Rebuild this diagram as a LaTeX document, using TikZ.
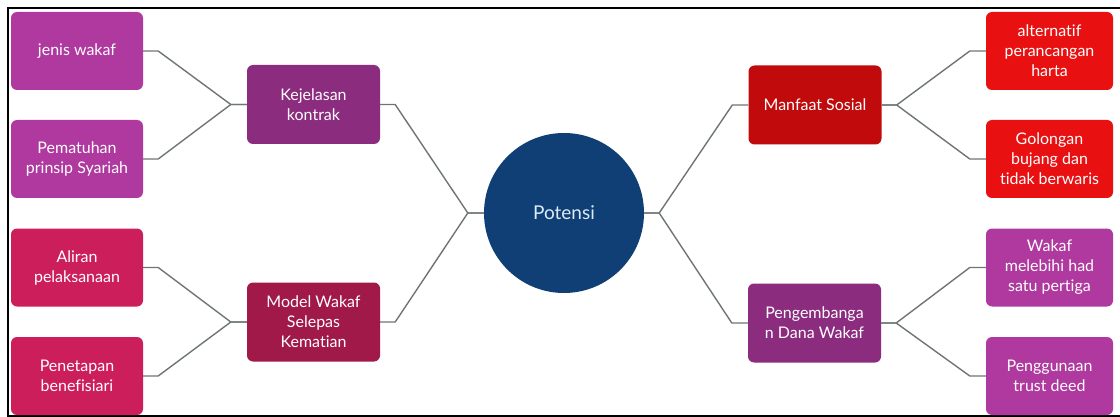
\documentclass[tikz,border=0pt]{standalone}
\usepackage{fontspec}
\setmainfont{Lato}[Ligatures=NoCommon]
\usepackage{xcolor}
\usetikzlibrary{positioning,calc}

\definecolor{leafpurple}{HTML}{AF399E}
\definecolor{midpurple}{HTML}{8B2C7E}
\definecolor{leafcrimson}{HTML}{CC1E5A}
\definecolor{midcrimson}{HTML}{A01948}
\definecolor{midred}{HTML}{C00A0C}
\definecolor{leafred}{HTML}{E81010}
\definecolor{hubblue}{HTML}{0F3F75}
\definecolor{hubtext}{HTML}{DDEBF7}
\definecolor{linkgray}{HTML}{6E7574}

\begin{document}
\begin{tikzpicture}[x=1pt, y=-1pt,
    box/.style={rectangle, rounded corners=6pt, text=white, align=center,
        font=\fontsize{16}{20}\selectfont, inner sep=0pt},
    leaf/.style={box, minimum width=132pt, minimum height=78pt},
    leafr/.style={box, minimum width=127pt, minimum height=78pt},
    mid/.style={box, minimum width=133pt, minimum height=79pt},
    link/.style={draw=linkgray, line width=1.4pt}]
    \useasboundingbox (0,0) rectangle (1120,417);
    \draw[line width=2pt] (1121,8) -- (8,8) -- (8,416) -- (1121,416);

    % hub
    \node [circle, fill=hubblue, minimum size=160pt, inner sep=0pt, text=hubtext,
        font=\fontsize{19}{22}\selectfont] (hub) at (564,213) {Potensi};

    % left side
    \node [mid, fill=midpurple] (kej) at (313.5,104.5) {Kejelasan\\kontrak};
    \node [mid, fill=midcrimson] (model) at (313.5,322) {Model Wakaf\\Selepas\\Kematian};
    \node [leaf, fill=leafpurple] (jenis) at (77,51) {jenis wakaf};
    \node [leaf, fill=leafpurple] (patuh) at (77,159) {Pematuhan\\prinsip Syariah};
    \node [leaf, fill=leafcrimson] (aliran) at (77,267.5) {Aliran\\pelaksanaan};
    \node [leaf, fill=leafcrimson] (tetap) at (77,376) {Penetapan\\benefisiari};

    % right side
    \node [mid, fill=midred] (manfaat) at (815,105) {Manfaat Sosial};
    \node [mid, fill=midpurple] (dana) at (814.5,323) {Pengembanga\\n Dana Wakaf};
    \node [leafr, fill=leafred] (alt) at (1049.5,51) {alternatif\\perancangan\\harta};
    \node [leafr, fill=leafred] (golongan) at (1049.5,159) {Golongan\\bujang dan\\tidak berwaris};
    \node [leafr, fill=leafpurple] (lebih) at (1049.5,267.5) {Wakaf\\melebihi had\\satu pertiga};
    \node [leafr, fill=leafpurple] (trust) at (1049.5,376) {Penggunaan\\trust deed};

    % connectors
    \foreach \a/\b in {jenis/kej, patuh/kej, aliran/model, tetap/model, kej/hub, model/hub}
        \draw [link] (\a.east) -- ++(15,0) -- ([xshift=-16pt]\b.west) -- (\b.west);
    \foreach \a/\b in {hub/manfaat, hub/dana, manfaat/alt, manfaat/golongan, dana/lebih, dana/trust}
        \draw [link] (\a.east) -- ++(15,0) -- ([xshift=-16pt]\b.west) -- (\b.west);
\end{tikzpicture}
\end{document}
